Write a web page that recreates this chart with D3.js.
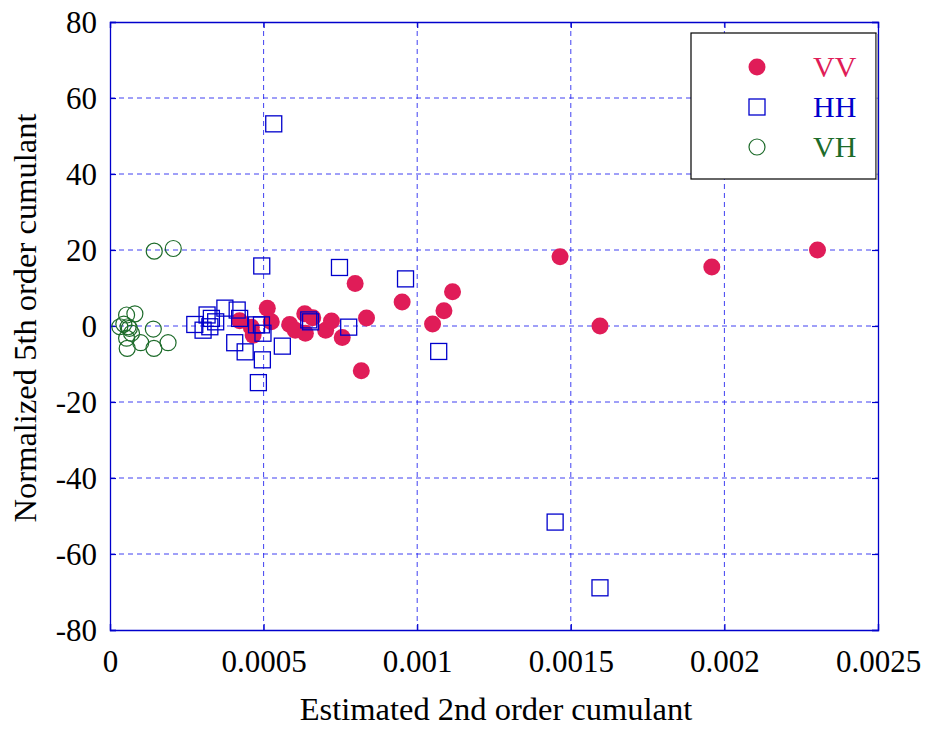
<!DOCTYPE html>
<html><head><meta charset="utf-8">
<script src="https://cdn.jsdelivr.net/npm/d3@7"></script>
<style>body{margin:0;background:#fff} text{font-family:'Liberation Serif','Times New Roman',serif}</style>
</head><body>
<script>
const xTicks = [0, 0.0005, 0.001, 0.0015, 0.002, 0.0025];
const xTickLabels = ["0", "0.0005", "0.001", "0.0015", "0.002", "0.0025"];
const yTicks = [-80, -60, -40, -20, 0, 20, 40, 60, 80];
const seriesNames = ["VV", "HH", "VH"];
const vvX = [0.000422,0.000460,0.000466,0.000512,0.000525,0.000585,0.000603,0.000634,0.000636,0.000660,0.000702,0.000721,0.000756,0.000798,0.000835,0.000818,0.000951,0.001050,0.001087,0.001115,0.001465,0.001595,0.001959,0.002303];
const vvY = [1.4,-0.3,-2.4,4.7,1.1,0.4,-1.1,3.2,-1.9,2.2,-1.1,1.3,-3.0,11.2,2.1,-11.8,6.3,0.5,4.0,9.0,18.2,0,15.5,20.0];
const hhX = [0.000533,0.000494,0.000747,0.000962,0.001070,0.001449,0.001595,0.000647,0.000777,0.000561,0.000496,0.000483,0.000440,0.000406,0.000374,0.000414,0.000422,0.000316,0.000330,0.000344,0.000276,0.000303,0.000325,0.000477,0.000493,0.000498,0.000653];
const hhY = [53.2,15.8,15.4,12.4,-6.7,-51.6,-68.9,1.6,-0.3,-5.3,-8.9,-14.9,-6.8,-4.4,4.7,4.2,2.0,2.9,2.0,1.1,0.4,-1.1,-0.2,0.3,0.3,-1.9,1.1];
const vhX = [0.000144,0.000206,0.000054,0.000081,0.000032,0.000045,0.000059,0.000063,0.000070,0.000054,0.000056,0.000100,0.000141,0.000143,0.000189];
const vhY = [19.7,20.4,2.9,3.2,-0.2,0.5,-0.2,-0.6,-1.9,-3.2,-5.9,-4.4,-0.8,-5.9,-4.4];

const W = 925, H = 729;
const m = {left:110, right:47, top:22, bottom:99};
const FONT = "'Liberation Serif', 'Times New Roman', serif";
const svg = d3.select("body").append("svg").attr("width", W).attr("height", H);
const x = d3.scaleLinear().domain([0, 0.0025]).range([m.left, W - m.right]);
const y = d3.scaleLinear().domain([-80, 80]).range([H - m.bottom, m.top]);
const blue = "#0000cc", red = "#e01c58", green = "#1d6b2a";

// grid
const grid = svg.append("g");
grid.selectAll("line.gx").data(xTicks.slice(1, -1)).join("line")
  .attr("x1", d => x(d)).attr("x2", d => x(d)).attr("y1", y(80)).attr("y2", y(-80))
  .attr("stroke", "#2020ee").attr("stroke-opacity", 0.85).attr("stroke-dasharray", "5,4");
grid.selectAll("line.gy").data(yTicks.slice(1, -1)).join("line")
  .attr("y1", d => y(d)).attr("y2", d => y(d)).attr("x1", x(0)).attr("x2", x(0.0025))
  .attr("stroke", "#2020ee").attr("stroke-opacity", 0.85).attr("stroke-dasharray", "5,4");

// axes
const fmt = (d) => xTickLabels[xTicks.indexOf(d)];
const axB = svg.append("g").attr("transform", `translate(0,${y(-80)})`)
  .call(d3.axisBottom(x).tickValues(xTicks).tickFormat(fmt).tickSize(-6));
const axL = svg.append("g").attr("transform", `translate(${x(0)},0)`)
  .call(d3.axisLeft(y).tickValues(yTicks).tickFormat(d => String(d)).tickSize(-6));
const axT = svg.append("g").attr("transform", `translate(0,${y(80)})`)
  .call(d3.axisTop(x).tickValues(xTicks).tickFormat("").tickSize(-6));
const axR = svg.append("g").attr("transform", `translate(${x(0.0025)},0)`)
  .call(d3.axisRight(y).tickValues(yTicks).tickFormat("").tickSize(-6));
[axB, axL, axT, axR].forEach(g => {
  g.attr("font-family", FONT).attr("font-size", 31);
  g.select(".domain").attr("stroke", blue).attr("stroke-width", 1.3);
  g.selectAll(".tick line").attr("stroke", blue).attr("stroke-width", 1.2);
  g.selectAll(".tick text").attr("fill", "#000");
});
axB.selectAll(".tick text").attr("dy", null).attr("y", 42);
axL.selectAll(".tick text").attr("x", -13).attr("dy", "0.33em");

// VV
svg.append("g").selectAll("circle").data(vvX.map((d, i) => [d, vvY[i]])).join("circle")
  .attr("cx", d => x(d[0])).attr("cy", d => y(d[1])).attr("r", 8.5).attr("fill", red);
// HH
svg.append("g").selectAll("rect").data(hhX.map((d, i) => [d, hhY[i]])).join("rect")
  .attr("x", d => x(d[0]) - 8).attr("y", d => y(d[1]) - 8).attr("width", 16).attr("height", 16)
  .attr("fill", "none").attr("stroke", blue).attr("stroke-width", 1.3);
// VH
svg.append("g").selectAll("circle").data(vhX.map((d, i) => [d, vhY[i]])).join("circle")
  .attr("cx", d => x(d[0])).attr("cy", d => y(d[1])).attr("r", 8)
  .attr("fill", "none").attr("stroke", green).attr("stroke-width", 1.2);

// legend
const lg = svg.append("g");
lg.append("rect").attr("x", 691).attr("y", 33).attr("width", 185).attr("height", 146)
  .attr("fill", "#fff").attr("stroke", "#000").attr("stroke-width", 1.2);
lg.append("line").attr("x1", 877).attr("x2", 877).attr("y1", 34).attr("y2", 180)
  .attr("stroke", "#999").attr("stroke-width", 1.5);
const cols = [red, blue, green];
seriesNames.forEach((s, i) => {
  const cy = 67 + i * 40;
  if (i === 0) lg.append("circle").attr("cx", 757).attr("cy", cy).attr("r", 8.5).attr("fill", red);
  if (i === 1) lg.append("rect").attr("x", 749).attr("y", cy - 8).attr("width", 16).attr("height", 16)
      .attr("fill", "none").attr("stroke", blue).attr("stroke-width", 1.3);
  if (i === 2) lg.append("circle").attr("cx", 757).attr("cy", cy).attr("r", 8)
      .attr("fill", "none").attr("stroke", green).attr("stroke-width", 1.2);
  lg.append("text").attr("x", 813).attr("y", cy + 10).text(s).attr("fill", cols[i])
    .attr("font-family", FONT).attr("font-size", 30);
});

// titles
svg.append("text").attr("x", 496).attr("y", 720).attr("text-anchor", "middle")
  .attr("font-family", FONT).attr("font-size", 32.5).text("Estimated 2nd order cumulant");
svg.append("text").attr("transform", `translate(36,318) rotate(-90)`).attr("text-anchor", "middle")
  .attr("font-family", FONT).attr("font-size", 32.5).text("Normalized 5th order cumulant");
</script>
</body></html>
